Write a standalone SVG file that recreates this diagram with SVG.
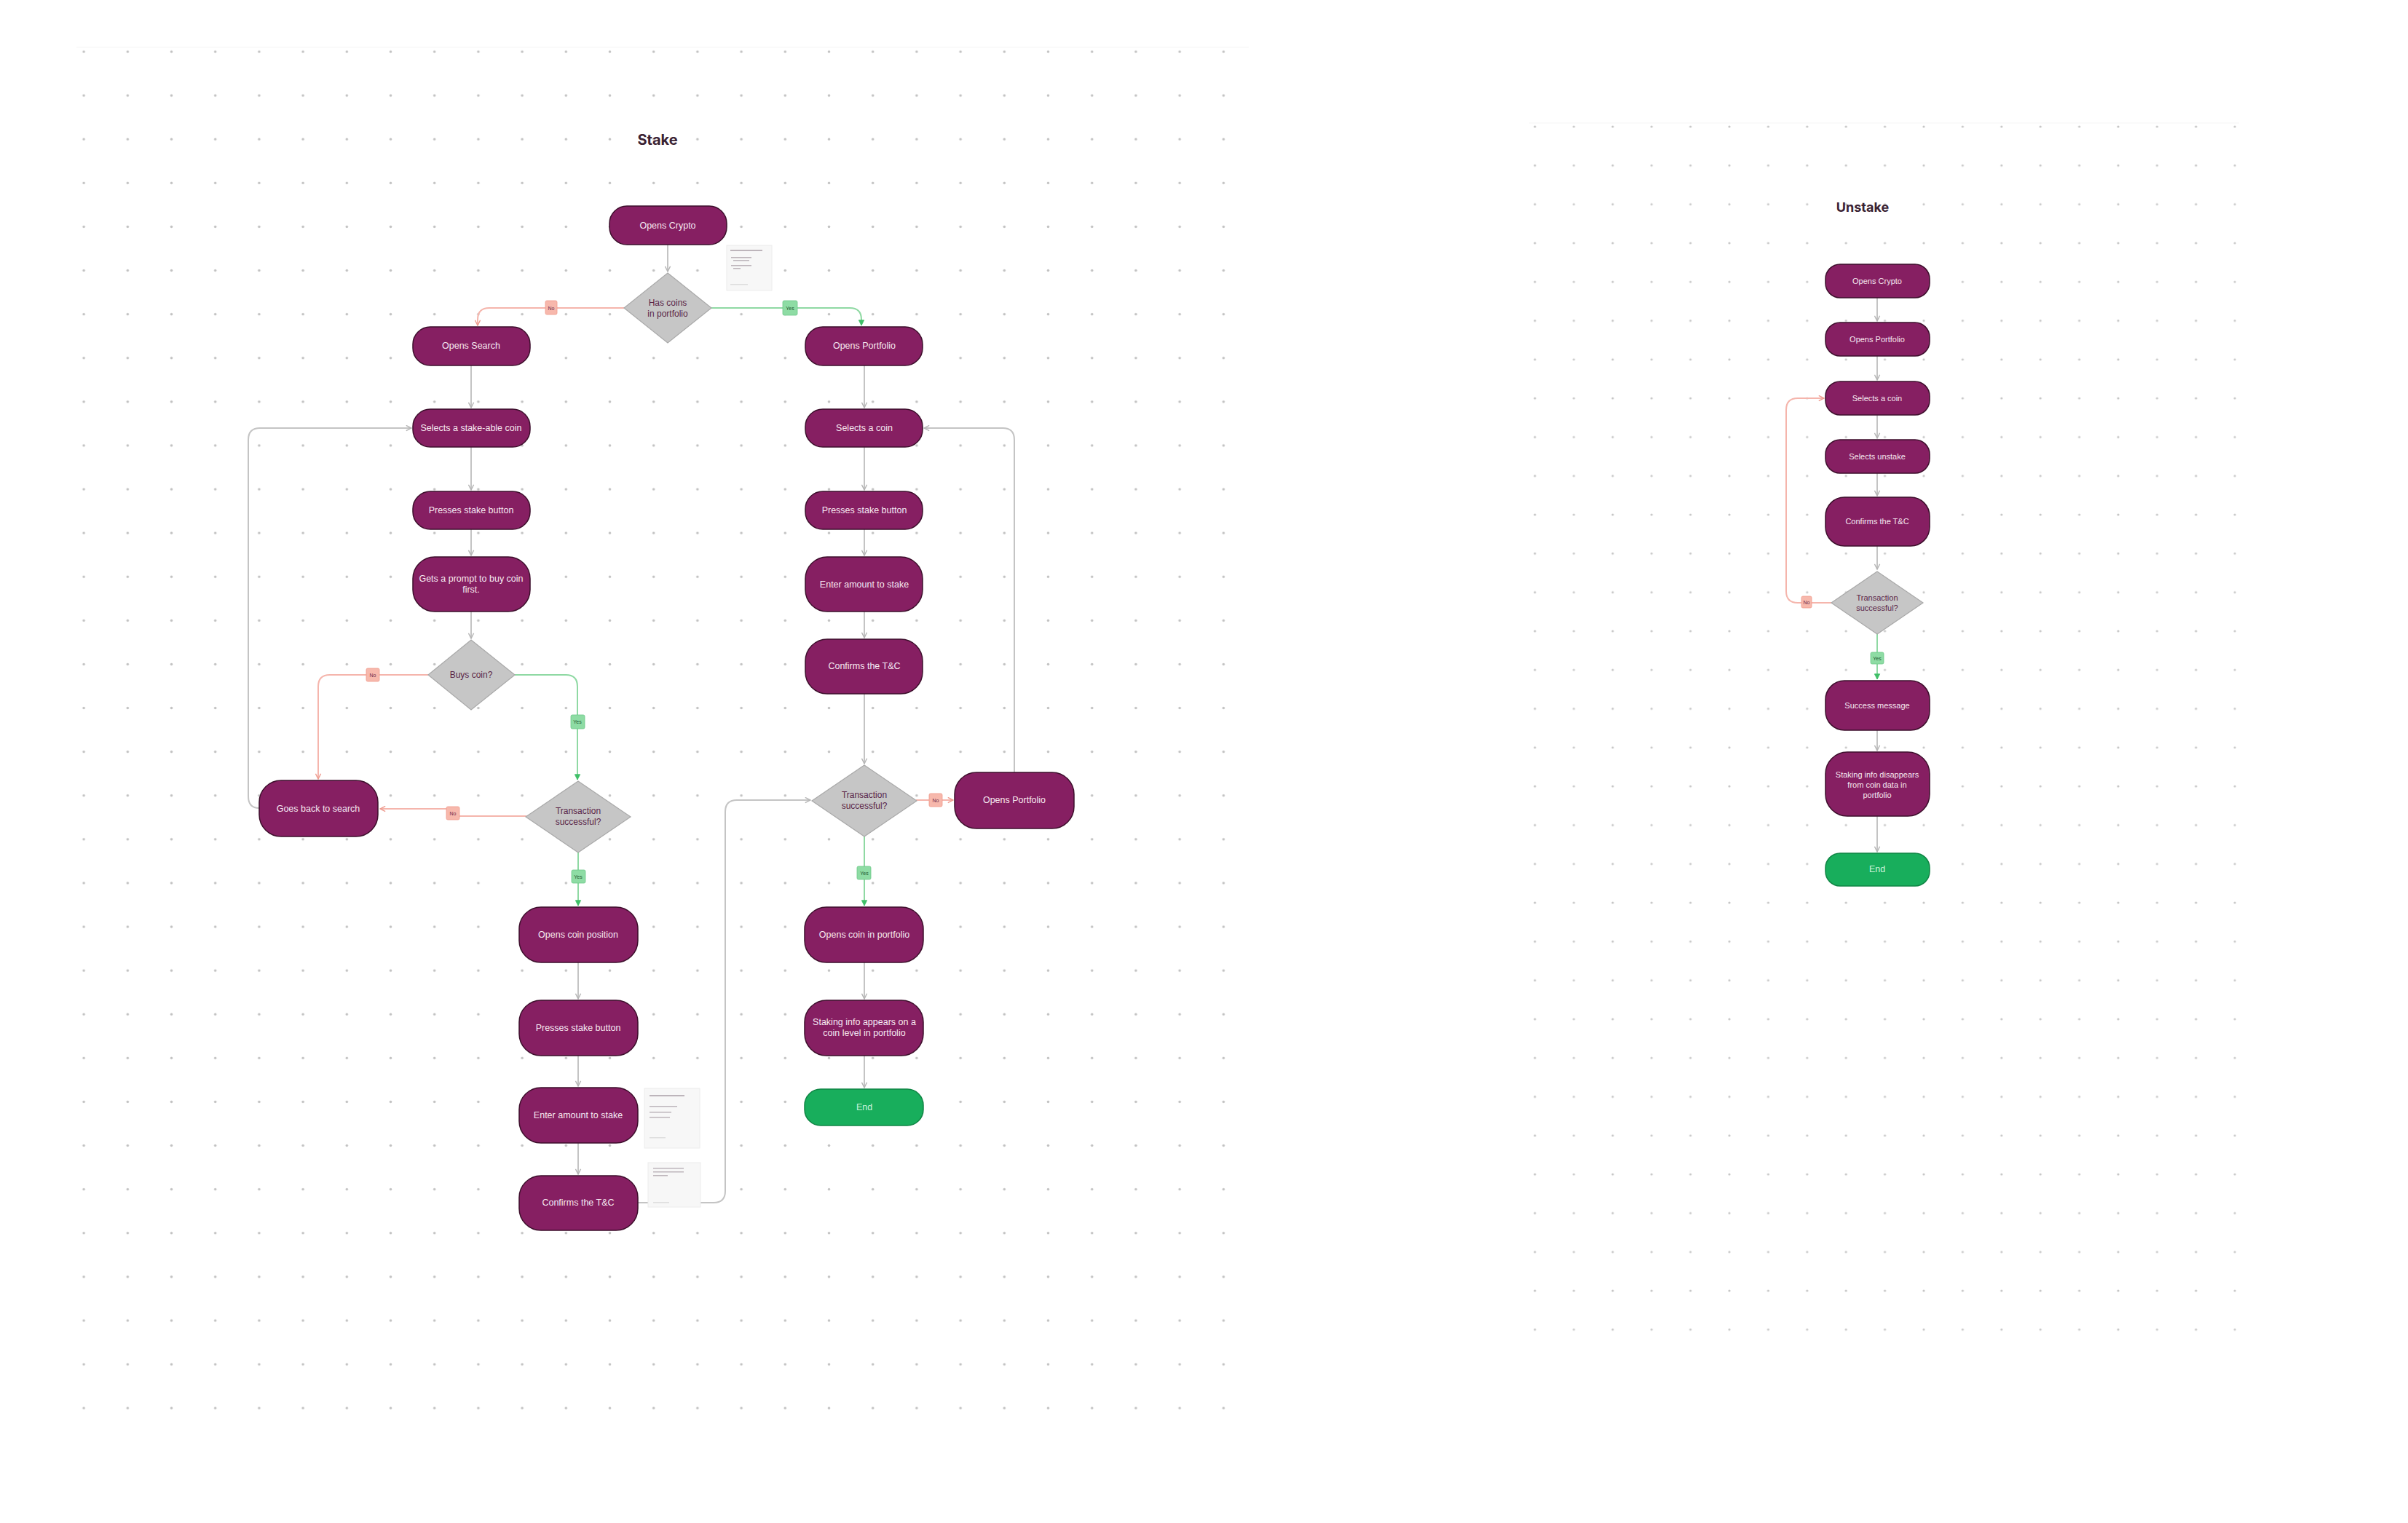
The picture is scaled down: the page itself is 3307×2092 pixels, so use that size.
<svg xmlns="http://www.w3.org/2000/svg" width="3307" height="2092" viewBox="0 0 3307 2092">
<style>
.node{fill:#861F62;stroke:#3d0f2c;stroke-width:1.5}
.end{fill:#18AE5C;stroke:#0f8544;stroke-width:1.5}
.dia{fill:#C6C6C6;stroke:#a9a9a9;stroke-width:1.2}
.t{font-family:"Liberation Sans",Arial,sans-serif;font-size:12.5px;fill:#F6E9F1;text-anchor:middle;dominant-baseline:central}
.ts{font-family:"Liberation Sans",Arial,sans-serif;font-size:11px;fill:#F6E9F1;text-anchor:middle;dominant-baseline:central}
.te{font-family:"Liberation Sans",Arial,sans-serif;font-size:12.5px;fill:#CFF5DC;text-anchor:middle;dominant-baseline:central}
.td{font-family:"Liberation Sans",Arial,sans-serif;font-size:12px;fill:#5a2548;text-anchor:middle;dominant-baseline:central}
.tds{font-family:"Liberation Sans",Arial,sans-serif;font-size:11px;fill:#5a2548;text-anchor:middle;dominant-baseline:central}
.title{font-family:"Inter","Liberation Sans",Arial,sans-serif;font-weight:700;fill:#3a2233;text-anchor:middle;dominant-baseline:central}
.c{fill:none;stroke:#c4c4c4;stroke-width:2}
.cn{fill:none;stroke:#F5B5AC;stroke-width:2}
.cy{fill:none;stroke:#8FD9A3;stroke-width:2}
.lno{fill:#F7B8AC;stroke:#f09a8c;stroke-width:0.8}
.lyes{fill:#8EDCA4;stroke:#6cc888;stroke-width:0.8}
.ltn{font-family:"Liberation Sans",Arial,sans-serif;font-size:7px;fill:#6b2a4a;text-anchor:middle;dominant-baseline:central}
.lty{font-family:"Liberation Sans",Arial,sans-serif;font-size:7px;fill:#1f5a33;text-anchor:middle;dominant-baseline:central}
.note{fill:#F7F7F7;stroke:#ececec;stroke-width:1}
.nl{fill:#bdb5bb}
.nf{fill:#dedede}
</style>
<defs>
<pattern id="dotsL" x="85" y="41" width="60.2" height="60.1" patternUnits="userSpaceOnUse">
<circle cx="30.1" cy="30.05" r="1.8" fill="#c2c2c2"/>
</pattern>
<pattern id="dotsR" x="2081.3" y="147.35" width="53.4" height="53.3" patternUnits="userSpaceOnUse">
<circle cx="26.7" cy="26.65" r="1.6" fill="#c6c6c6"/>
</pattern>
<marker id="ag" viewBox="0 0 10 10" refX="9" refY="5" markerWidth="9" markerHeight="9" markerUnits="userSpaceOnUse" orient="auto">
<path d="M1,1 L9,5 L1,9" fill="none" stroke="#b5b5b5" stroke-width="1.6"/>
</marker>
<marker id="an" viewBox="0 0 10 10" refX="9" refY="5" markerWidth="9" markerHeight="9" markerUnits="userSpaceOnUse" orient="auto">
<path d="M1,1 L9,5 L1,9" fill="none" stroke="#EE9B8F" stroke-width="1.6"/>
</marker>
<marker id="ay" viewBox="0 0 10 10" refX="9" refY="5" markerWidth="9" markerHeight="9" markerUnits="userSpaceOnUse" orient="auto">
<path d="M1,1 L9,5 L1,9 Z" fill="#3fbf68" stroke="#3fbf68" stroke-width="1"/>
</marker>
</defs>
<rect width="3307" height="2092" fill="#FFFFFF"/>
<g id="background">
<line x1="105" y1="65" x2="1715" y2="65" stroke="#f5f5f5" stroke-width="1"/>
<rect x="100" y="55" width="1600" height="1895" fill="url(#dotsL)"/>
<line x1="2100" y1="169" x2="3075" y2="169" stroke="#f5f5f5" stroke-width="1"/>
<rect x="2090" y="160" width="995" height="1680" fill="url(#dotsR)"/>
</g>
<text id="title-stake" class="title" x="903" y="192" font-size="20">Stake</text>
<text id="title-unstake" class="title" x="2558" y="284" font-size="18">Unstake</text>
<g id="connectors">
<path class="c" d="M917,336 V373" marker-end="url(#ag)"/>
<path class="cn" d="M857,423 H672 Q656,423 656,439 V447" marker-end="url(#an)"/>
<path class="cy" d="M977,423 H1167 Q1183,423 1183,439 V447" marker-end="url(#ay)"/>
<path class="c" d="M647,502 V560" marker-end="url(#ag)"/>
<path class="c" d="M647,614 V673" marker-end="url(#ag)"/>
<path class="c" d="M647,727 V763" marker-end="url(#ag)"/>
<path class="c" d="M647,840 V877" marker-end="url(#ag)"/>
<path class="cn" d="M588,927 H453 Q437,927 437,943 V1070" marker-end="url(#an)"/>
<path class="cy" d="M707,927 H777 Q793,927 793,943 V1071" marker-end="url(#ay)"/>
<path class="cn" d="M723,1121 H630 V1111 H522" marker-end="url(#an)"/>
<path class="c" d="M356,1110 Q341,1110 341,1094 V604 Q341,588 357,588 H565" marker-end="url(#ag)"/>
<path class="cy" d="M794,1171 V1244" marker-end="url(#ay)"/>
<path class="c" d="M794,1322 V1372" marker-end="url(#ag)"/>
<path class="c" d="M794,1450 V1492" marker-end="url(#ag)"/>
<path class="c" d="M794,1570 V1613" marker-end="url(#ag)"/>
<path class="c" d="M876,1652 H980 Q996,1652 996,1636 V1115 Q996,1099 1012,1099 H1113" marker-end="url(#ag)"/>
<path class="c" d="M1187,502 V560" marker-end="url(#ag)"/>
<path class="c" d="M1187,614 V673" marker-end="url(#ag)"/>
<path class="c" d="M1187,727 V763" marker-end="url(#ag)"/>
<path class="c" d="M1187,840 V876" marker-end="url(#ag)"/>
<path class="c" d="M1187,953 V1049" marker-end="url(#ag)"/>
<path class="cn" d="M1258,1099 H1309" marker-end="url(#an)"/>
<path class="c" d="M1393,1061 V604 Q1393,588 1377,588 H1269" marker-end="url(#ag)"/>
<path class="cy" d="M1187,1148 V1244" marker-end="url(#ay)"/>
<path class="c" d="M1187,1322 V1372" marker-end="url(#ag)"/>
<path class="c" d="M1187,1450 V1494" marker-end="url(#ag)"/>
<path class="c" d="M2578,409 V441" marker-end="url(#ag)"/>
<path class="c" d="M2578,489 V522" marker-end="url(#ag)"/>
<path class="c" d="M2578,570 V602" marker-end="url(#ag)"/>
<path class="c" d="M2578,650 V681" marker-end="url(#ag)"/>
<path class="c" d="M2578,750 V782" marker-end="url(#ag)"/>
<path class="cn" d="M2515,828 H2469 Q2453,828 2453,812 V563 Q2453,547 2469,547 H2505" marker-end="url(#an)"/>
<path class="cy" d="M2578,871 V933" marker-end="url(#ay)"/>
<path class="c" d="M2578,1003 V1031" marker-end="url(#ag)"/>
<path class="c" d="M2578,1121 V1170" marker-end="url(#ag)"/>
<g id="labels">
<rect class="lno" x="749" y="413" width="16" height="19" rx="2"/><text class="ltn" x="757" y="423">No</text>
<rect class="lyes" x="1075" y="413" width="20" height="20" rx="2"/><text class="lty" x="1085" y="423">Yes</text>
<rect class="lno" x="503" y="918" width="18" height="18" rx="2"/><text class="ltn" x="512" y="927">No</text>
<rect class="lyes" x="784" y="982" width="19" height="19" rx="2"/><text class="lty" x="793" y="991">Yes</text>
<rect class="lno" x="613" y="1108" width="18" height="18" rx="2"/><text class="ltn" x="622" y="1117">No</text>
<rect class="lyes" x="785" y="1195" width="19" height="18" rx="2"/><text class="lty" x="794" y="1204">Yes</text>
<rect class="lno" x="1276" y="1090" width="18" height="18" rx="2"/><text class="ltn" x="1285" y="1099">No</text>
<rect class="lyes" x="1177" y="1190" width="19" height="18" rx="2"/><text class="lty" x="1187" y="1199">Yes</text>
<rect class="lno" x="2474" y="819" width="14" height="16" rx="2"/><text class="ltn" x="2481" y="827" font-size="6">No</text>
<rect class="lyes" x="2569" y="896" width="18" height="16" rx="2"/><text class="lty" x="2578" y="904" font-size="6">Yes</text>
</g>
</g>
<g id="n-opens-crypto"><rect class="node" x="837" y="283" width="161" height="53" rx="24"/><text class="t" x="917" y="310">Opens Crypto</text></g>
<g id="n-has-coins"><polygon class="dia" points="917,375 977,423 917,471 857,423"/><text class="td" x="917" y="416">Has coins</text><text class="td" x="917" y="431">in portfolio</text></g>
<g id="n-opens-search"><rect class="node" x="567" y="449" width="161" height="53" rx="24"/><text class="t" x="647" y="475">Opens Search</text></g>
<g id="n-opens-portfolio"><rect class="node" x="1106" y="449" width="161" height="53" rx="24"/><text class="t" x="1187" y="475">Opens Portfolio</text></g>
<g id="n-selects-stakeable"><rect class="node" x="567" y="562" width="161" height="52" rx="24"/><text class="t" x="647" y="588">Selects a stake-able coin</text></g>
<g id="n-selects-coin"><rect class="node" x="1106" y="562" width="161" height="52" rx="24"/><text class="t" x="1187" y="588">Selects a coin</text></g>
<g id="n-presses-l"><rect class="node" x="567" y="675" width="161" height="52" rx="24"/><text class="t" x="647" y="701">Presses stake button</text></g>
<g id="n-presses-r"><rect class="node" x="1106" y="675" width="161" height="52" rx="24"/><text class="t" x="1187" y="701">Presses stake button</text></g>
<g id="n-gets-prompt"><rect class="node" x="567" y="765" width="161" height="75" rx="30"/><text class="t" x="647" y="795">Gets a prompt to buy coin</text><text class="t" x="647" y="810">first.</text></g>
<g id="n-enter-r"><rect class="node" x="1106" y="765" width="161" height="75" rx="30"/><text class="t" x="1187" y="803">Enter amount to stake</text></g>
<g id="n-confirms-r"><rect class="node" x="1106" y="878" width="161" height="75" rx="30"/><text class="t" x="1187" y="915">Confirms the T&amp;C</text></g>
<g id="n-buys-coin"><polygon class="dia" points="647,879 707,927 647,975 588,927"/><text class="td" x="647" y="927">Buys coin?</text></g>
<g id="n-goes-back"><rect class="node" x="356" y="1072" width="163" height="77" rx="30"/><text class="t" x="437" y="1111">Goes back to search</text></g>
<g id="n-trans-l"><polygon class="dia" points="794,1073 866,1122 794,1171 722,1122"/><text class="td" x="794" y="1114">Transaction</text><text class="td" x="794" y="1129">successful?</text></g>
<g id="n-trans-r"><polygon class="dia" points="1187,1051 1259,1100 1187,1149 1115,1100"/><text class="td" x="1187" y="1092">Transaction</text><text class="td" x="1187" y="1107">successful?</text></g>
<g id="n-opens-portfolio-2"><rect class="node" x="1311" y="1061" width="164" height="77" rx="30"/><text class="t" x="1393" y="1099">Opens Portfolio</text></g>
<g id="n-opens-coin-position"><rect class="node" x="713" y="1246" width="163" height="76" rx="30"/><text class="t" x="794" y="1284">Opens coin position</text></g>
<g id="n-presses-l2"><rect class="node" x="713" y="1374" width="163" height="76" rx="30"/><text class="t" x="794" y="1412">Presses stake button</text></g>
<g id="n-enter-l2"><rect class="node" x="713" y="1494" width="163" height="76" rx="30"/><text class="t" x="794" y="1532">Enter amount to stake</text></g>
<g id="n-confirms-l2"><rect class="node" x="713" y="1615" width="163" height="75" rx="30"/><text class="t" x="794" y="1652">Confirms the T&amp;C</text></g>
<g id="n-opens-coin-portfolio"><rect class="node" x="1105" y="1246" width="163" height="76" rx="30"/><text class="t" x="1187" y="1284">Opens coin in portfolio</text></g>
<g id="n-staking-appears"><rect class="node" x="1105" y="1374" width="163" height="76" rx="30"/><text class="t" x="1187" y="1404">Staking info appears on a</text><text class="t" x="1187" y="1419">coin level in portfolio</text></g>
<g id="n-end-stake"><rect class="end" x="1105" y="1496" width="163" height="50" rx="22"/><text class="te" x="1187" y="1521">End</text></g>
<g id="note-1"><rect class="note" x="998" y="337" width="62" height="62"/><rect class="nl" x="1003" y="343" width="44" height="2"/><rect class="nl" x="1004" y="353" width="28" height="1.5"/><rect class="nl" x="1007" y="357" width="22" height="1.5"/><rect class="nl" x="1004" y="364" width="28" height="1.5"/><rect class="nl" x="1007" y="368" width="10" height="1.5"/><rect class="nf" x="1003" y="390" width="24" height="1.5"/></g>
<g id="note-2"><rect class="note" x="885" y="1495" width="76" height="82"/><rect class="nl" x="892" y="1504" width="48" height="2"/><rect class="nl" x="892" y="1519" width="38" height="1.5"/><rect class="nl" x="892" y="1527" width="30" height="1.5"/><rect class="nl" x="892" y="1534" width="28" height="1.5"/><rect class="nf" x="892" y="1562" width="22" height="1.5"/></g>
<g id="note-3"><rect class="note" x="890" y="1597" width="72" height="61"/><rect class="nl" x="897" y="1604" width="42" height="1.5"/><rect class="nl" x="897" y="1609" width="42" height="1.5"/><rect class="nl" x="897" y="1614" width="20" height="1.5"/><rect class="nf" x="897" y="1651" width="22" height="1.5"/></g>
<g id="u-opens-crypto"><rect class="node" x="2507" y="363" width="143" height="46" rx="20"/><text class="ts" x="2578" y="386">Opens Crypto</text></g>
<g id="u-opens-portfolio"><rect class="node" x="2507" y="443" width="143" height="46" rx="20"/><text class="ts" x="2578" y="466">Opens Portfolio</text></g>
<g id="u-selects-coin"><rect class="node" x="2507" y="524" width="143" height="46" rx="20"/><text class="ts" x="2578" y="547">Selects a coin</text></g>
<g id="u-selects-unstake"><rect class="node" x="2507" y="604" width="143" height="46" rx="20"/><text class="ts" x="2578" y="627">Selects unstake</text></g>
<g id="u-confirms"><rect class="node" x="2507" y="683" width="143" height="67" rx="26"/><text class="ts" x="2578" y="716">Confirms the T&amp;C</text></g>
<g id="u-trans"><polygon class="dia" points="2578,785 2641,828 2578,871 2515,828"/><text class="tds" x="2578" y="821">Transaction</text><text class="tds" x="2578" y="835">successful?</text></g>
<g id="u-success"><rect class="node" x="2507" y="935" width="143" height="68" rx="26"/><text class="ts" x="2578" y="969">Success message</text></g>
<g id="u-staking-disappears"><rect class="node" x="2507" y="1033" width="143" height="88" rx="30"/><text class="ts" x="2578" y="1064">Staking info disappears</text><text class="ts" x="2578" y="1078">from coin data in</text><text class="ts" x="2578" y="1092">portfolio</text></g>
<g id="u-end"><rect class="end" x="2507" y="1172" width="143" height="45" rx="20"/><text class="te" x="2578" y="1194" font-size="11">End</text></g>
</svg>
